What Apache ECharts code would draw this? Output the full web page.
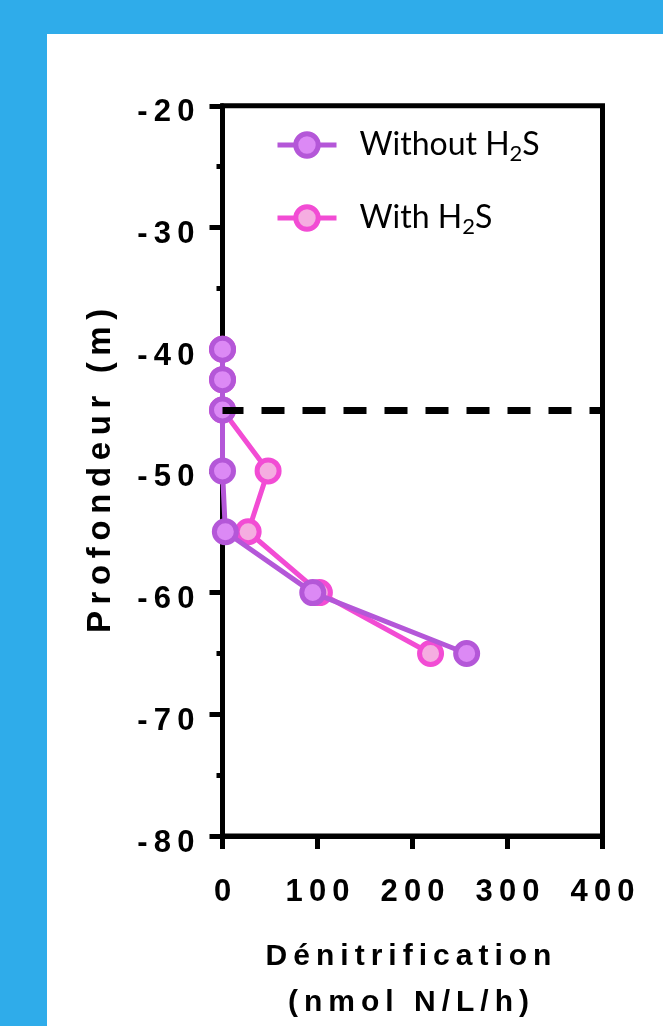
<!DOCTYPE html>
<html>
<head>
<meta charset="utf-8">
<script src="https://cdn.jsdelivr.net/npm/echarts@6/dist/echarts.min.js"></script>
<style>
  html, body { margin: 0; padding: 0; background: #2FACEA; }
  #panel { position: absolute; left: 47px; top: 34px; width: 616px; height: 992px; background: #ffffff; }
  #chart { position: absolute; left: 0; top: 0; width: 663px; height: 1026px; }
</style>
</head>
<body>
<div id="panel"></div>
<div id="chart"></div>
<script>
// ---- data ----
const depths      = [-40, -42.5, -45, -50, -55, -60, -65];
const withoutH2S  = [0, 0, 0, 0, 3, 95, 257];
const withH2S     = [0, 0, 0, 48, 27, 102, 219];
const seriesNames = ['Without H2S', 'With H2S'];
const xTicks      = [0, 100, 200, 300, 400];
const yTicks      = [-80, -70, -60, -50, -40, -30, -20];
const thresholdDepth = -45;
const xTitleLines = ['Dénitrification', '(nmol N/L/h)'];
const yTitle      = 'Profondeur (m)';

const spaced = s => s.split('').join('\u2009');
const pairs = vals => vals.map((v, i) => [v, depths[i]]);

const purple = { line: '#B457D8', fill: '#DC89F5' };
const pink   = { line: '#F24CD4', fill: '#F5ADE1' };

const labelFont = { fontFamily: 'Liberation Sans, Arial, sans-serif', fontWeight: 'bold', color: '#000' };

const chart = echarts.init(document.getElementById('chart'), null, { renderer: 'canvas' });
chart.setOption({
  backgroundColor: 'transparent',
  animation: false,
  grid: {
    left: 222.5, right: 60.5, top: 105.8, bottom: 190,
    containLabel: false, outerBoundsMode: 'none',
    show: true, borderColor: '#000', borderWidth: 5, backgroundColor: 'transparent'
  },
  legend: {
    orient: 'vertical', left: 275, top: 125, padding: 0,
    itemWidth: 59, itemHeight: 28, itemGap: 33,
    selectedMode: false,
    data: seriesNames,
    itemStyle: { borderWidth: 5 },
    lineStyle: { width: 5 },
    formatter: name => {
      const parts = name.split('H2S');
      return '{g| }{a|' + parts[0] + 'H}{s|2}{a|S}';
    },
    textStyle: {
      color: '#000', fontFamily: 'Lato', fontSize: 32,
      rich: {
        g: { width: 18, lineHeight: 28 },
        a: { fontFamily: 'Lato', fontSize: 32, lineHeight: 28, color: '#000' },
        s: { fontFamily: 'Lato', fontSize: 22, lineHeight: 10, padding: [18, 0, 0, 0], color: '#000' }
      }
    }
  },
  xAxis: {
    type: 'value', min: xTicks[0], max: xTicks[xTicks.length - 1], interval: 100,
    splitLine: { show: false },
    axisLine: { show: true, onZero: false, lineStyle: { color: '#000', width: 5 } },
    axisTick: { show: true, length: 13, lineStyle: { color: '#000', width: 5 } },
    axisLabel: { ...labelFont, fontSize: 31, margin: 40, lineHeight: 32, formatter: v => spaced(String(v)) },
    name: xTitleLines.map(spaced).join('\n'),
    nameLocation: 'middle', nameGap: 98,
    nameTextStyle: { ...labelFont, fontSize: 30, lineHeight: 46, padding: [0, 8, 0, 0] }
  },
  yAxis: {
    type: 'value', min: yTicks[0], max: yTicks[yTicks.length - 1], interval: 10,
    splitLine: { show: false },
    axisLine: { show: true, onZero: false, lineStyle: { color: '#000', width: 5 } },
    axisTick: { show: true, length: 13, lineStyle: { color: '#000', width: 5 } },
    minorTick: { show: true, splitNumber: 2, length: 6, lineStyle: { color: '#000', width: 5 } },
    axisLabel: { ...labelFont, fontSize: 31, margin: 28, verticalAlign: 'top', lineHeight: 14, formatter: v => spaced(String(v)) },
    name: spaced(yTitle),
    nameLocation: 'middle', nameGap: 102,
    nameTextStyle: { ...labelFont, fontSize: 33, lineHeight: 40 }
  },
  series: [
    {
      name: seriesNames[1], type: 'line', data: pairs(withH2S),
      symbol: 'circle', symbolSize: 22, z: 2,
      itemStyle: { color: pink.fill, borderColor: pink.line, borderWidth: 5 },
      lineStyle: { color: pink.line, width: 5 }
    },
    {
      name: seriesNames[0], type: 'line', data: pairs(withoutH2S),
      symbol: 'circle', symbolSize: 22, z: 3,
      itemStyle: { color: purple.fill, borderColor: purple.line, borderWidth: 5 },
      lineStyle: { color: purple.line, width: 5 }
    },
    {
      name: 'threshold', type: 'line', data: [], z: 5,
      markLine: {
        silent: true, symbol: ['none', 'none'], label: { show: false },
        lineStyle: { color: '#000', width: 7, type: [23, 18], dashOffset: 2 },
        data: [{ yAxis: thresholdDepth }]
      }
    }
  ]
});
</script>
</body>
</html>
